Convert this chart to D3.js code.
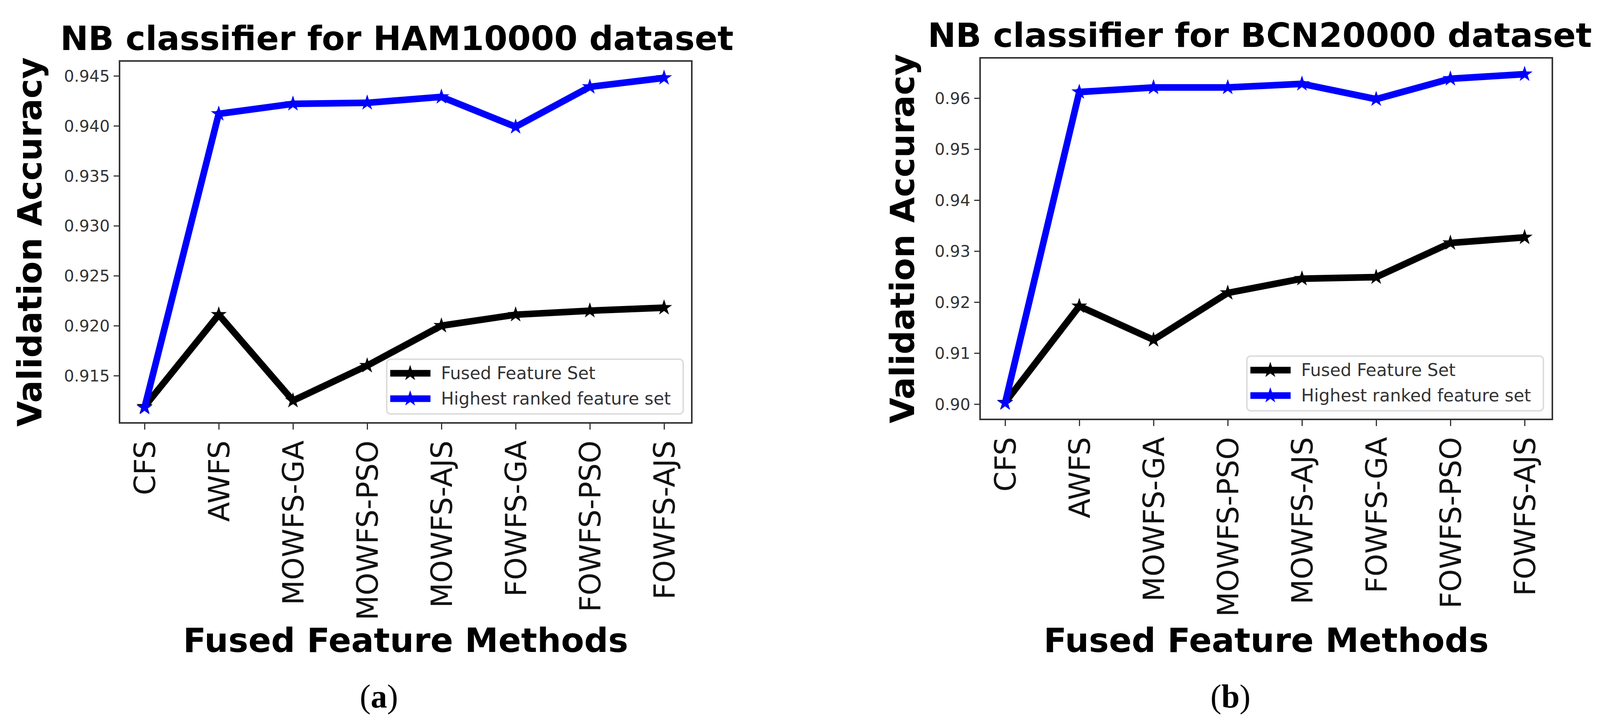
<!DOCTYPE html>
<html>
<head>
<meta charset="utf-8">
<script src="https://cdn.jsdelivr.net/npm/d3@7"></script>
<style>
  body { margin: 0; background: #fff; }
  svg text { font-family: "DejaVu Sans", sans-serif; }
  svg text.caption { font-family: "Liberation Serif", serif; }
</style>
</head>
<body>
<div id="chart"></div>
<script>
// data
var methods = ["CFS", "AWFS", "MOWFS-GA", "MOWFS-PSO", "MOWFS-AJS", "FOWFS-GA", "FOWFS-PSO", "FOWFS-AJS"];
var seriesNames = ["Fused Feature Set", "Highest ranked feature set"];

var hamFused = [0.9119, 0.9211, 0.9125, 0.9160, 0.9200, 0.9211, 0.9215, 0.9218];
var hamHighest = [0.9118, 0.9412, 0.9422, 0.9423, 0.9429, 0.9399, 0.9439, 0.9448];
var hamTicks = [0.915, 0.920, 0.925, 0.930, 0.935, 0.940, 0.945];

var bcnFused = [0.9003, 0.9192, 0.9126, 0.9218, 0.9246, 0.9249, 0.9316, 0.9327];
var bcnHighest = [0.9002, 0.9612, 0.9621, 0.9621, 0.9628, 0.9598, 0.9638, 0.9647];
var bcnTicks = [0.90, 0.91, 0.92, 0.93, 0.94, 0.95, 0.96];

var svg = d3.select("#chart").append("svg")
  .attr("width", 4140)
  .attr("height", 1860);

function drawPanel(p) {
  var x = d3.scalePoint().domain(methods).range([p.x0 + 64, p.x1 - 71]);
  var y = d3.scaleLinear().domain(p.domain).range([p.y1, p.y0]);

  var g = svg.append("g");

  // y axis
  var ya = g.append("g")
    .attr("transform", `translate(${p.x0},0)`)
    .call(d3.axisLeft(y).tickValues(p.ticks).tickFormat(d3.format(p.fmt)).tickSize(15).tickPadding(10));
  ya.select(".domain").remove();
  ya.selectAll("line").attr("stroke", "#333").attr("stroke-width", 3);
  ya.selectAll("text").attr("font-size", 41).attr("fill", "#333").attr("dy", "0.35em");

  // x axis
  var xa = g.append("g")
    .attr("transform", `translate(0,${p.y1})`)
    .call(d3.axisBottom(x).tickSize(17).tickPadding(0));
  xa.select(".domain").remove();
  xa.selectAll("line").attr("stroke", "#333").attr("stroke-width", 3);
  xa.selectAll("text")
    .attr("font-size", 74)
    .attr("fill", "#111")
    .attr("transform", "rotate(-90)")
    .attr("text-anchor", "end")
    .attr("x", -45)
    .attr("y", 0)
    .attr("dy", "0.36em");

  // frame
  g.append("rect")
    .attr("x", p.x0).attr("y", p.y0)
    .attr("width", p.x1 - p.x0).attr("height", p.y1 - p.y0)
    .attr("fill", "none").attr("stroke", "#333").attr("stroke-width", 4);

  var line = d3.line().x((d, i) => x(methods[i])).y(d => y(d));
  var star = d3.symbol().type(d3.symbolStar).size(520);

  p.series.forEach(function (s) {
    g.append("path")
      .datum(s.values)
      .attr("d", line)
      .attr("fill", "none")
      .attr("stroke", s.color)
      .attr("stroke-width", 17)
      .attr("stroke-linejoin", "miter");
    g.selectAll(null)
      .data(s.values)
      .enter()
      .append("path")
      .attr("d", star)
      .attr("transform", (d, i) => `translate(${x(methods[i])},${y(d)})`)
      .attr("fill", s.color);
  });

  // legend
  var lg = g.append("g").attr("transform", `translate(${p.legX},${p.legY})`);
  lg.append("rect")
    .attr("width", 759).attr("height", 140)
    .attr("rx", 10)
    .attr("fill", "#fff").attr("stroke", "#ddd").attr("stroke-width", 4);
  p.series.forEach(function (s, i) {
    var ry = 36 + i * 65;
    lg.append("line")
      .attr("x1", 9).attr("x2", 112)
      .attr("y1", ry).attr("y2", ry)
      .attr("stroke", s.color).attr("stroke-width", 17);
    lg.append("path")
      .attr("d", star)
      .attr("transform", `translate(60,${ry})`)
      .attr("fill", s.color);
    lg.append("text")
      .attr("x", 139).attr("y", ry)
      .attr("dy", "0.35em")
      .attr("font-size", 44)
      .attr("fill", "#333")
      .text(s.name);
  });

  // titles
  g.append("text")
    .attr("x", p.titleX).attr("y", p.titleY)
    .attr("text-anchor", "middle")
    .attr("font-size", 86).attr("font-weight", "bold")
    .text(p.title);

  g.append("text")
    .attr("transform", `translate(${p.yLabX},${(p.y0 + p.y1) / 2}) rotate(-90)`)
    .attr("text-anchor", "middle")
    .attr("font-size", 85).attr("font-weight", "bold")
    .text("Validation Accuracy");

  g.append("text")
    .attr("x", (p.x0 + p.x1) / 2).attr("y", 1668)
    .attr("text-anchor", "middle")
    .attr("font-size", 86).attr("font-weight", "bold")
    .text("Fused Feature Methods");

  var cap = g.append("text")
    .attr("class", "caption")
    .attr("x", p.capX).attr("y", 1810)
    .attr("text-anchor", "middle")
    .attr("font-size", 84);
  cap.append("tspan").text("(");
  cap.append("tspan").attr("font-weight", "bold").text(p.cap);
  cap.append("tspan").text(")");
}

drawPanel({
  x0: 306, x1: 1771, y0: 156, y1: 1082,
  domain: [0.91027, 0.94649], ticks: hamTicks, fmt: ".3f",
  title: "NB classifier for HAM10000 dataset", titleX: 1016, titleY: 128,
  yLabX: 106, legX: 990, legY: 919, capX: 970, cap: "a",
  series: [
    { name: seriesNames[0], values: hamFused, color: "#000" },
    { name: seriesNames[1], values: hamHighest, color: "#0000ff" }
  ]
});

drawPanel({
  x0: 2509, x1: 3974, y0: 148, y1: 1073,
  domain: [0.8970, 0.9679], ticks: bcnTicks, fmt: ".2f",
  title: "NB classifier for BCN20000 dataset", titleX: 3225, titleY: 120,
  yLabX: 2340, legX: 3192, legY: 911, capX: 3150, cap: "b",
  series: [
    { name: seriesNames[0], values: bcnFused, color: "#000" },
    { name: seriesNames[1], values: bcnHighest, color: "#0000ff" }
  ]
});
</script>
</body>
</html>
